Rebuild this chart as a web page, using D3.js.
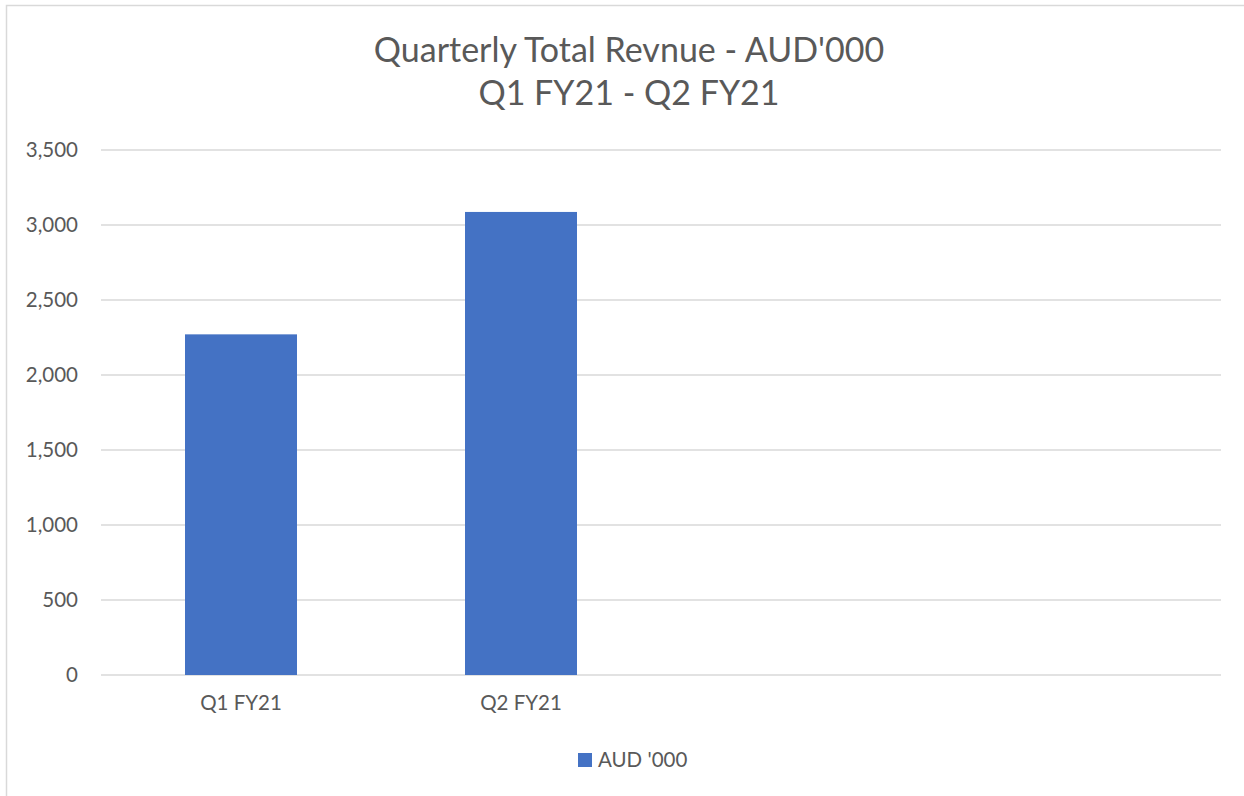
<!DOCTYPE html>
<html><head><meta charset="utf-8">
<script src="https://cdn.jsdelivr.net/npm/d3@7"></script>
<style>html,body{margin:0;padding:0;background:#fff;}svg{display:block;}</style>
</head><body>
<svg id="chart" width="1244" height="796"></svg>
<script>
const titleLines = ["Quarterly Total Revnue - AUD'000", "Q1 FY21 - Q2 FY21"];
const categories = ["Q1 FY21", "Q2 FY21", "", " "];
const seriesName = "AUD '000";
const values = [2271, 3087, null, null];
const yTicks = [0, 500, 1000, 1500, 2000, 2500, 3000, 3500];

(function () {
const svg = d3.select("#chart");
const font = "Lato, 'Open Sans', sans-serif";
const textColor = "#595959";

svg.append("rect").attr("x", 6.5).attr("y", 5.5).attr("width", 1300).attr("height", 900)
  .attr("fill", "#fff").attr("stroke", "#d9d9d9").attr("stroke-width", 1.5);

const pl = 101, pr = 1221, pt = 150, pb = 675;
const x = d3.scaleBand().domain(categories).range([pl, pr]).paddingInner(0.6).paddingOuter(0.3);
const y = d3.scaleLinear().domain([0, 3500]).range([pb, pt]);

svg.append("g").selectAll("line").data(yTicks).join("line")
  .attr("x1", pl).attr("x2", pr)
  .attr("y1", d => y(d)).attr("y2", d => y(d))
  .attr("stroke", "#d9d9d9").attr("stroke-width", 1.5);

const yAxis = d3.axisLeft(y).tickValues(yTicks).tickFormat(d3.format(",")).tickSize(0).tickPadding(0);
const ya = svg.append("g").attr("transform", "translate(78,0)").call(yAxis);
ya.select(".domain").remove();
ya.selectAll("text").attr("font-family", font).attr("font-size", 20.5).attr("fill", textColor);

svg.append("g").selectAll("rect").data(categories.map((c, i) => ({c, v: values[i]})).filter(d => d.v != null))
  .join("rect")
  .attr("x", d => x(d.c)).attr("width", x.bandwidth())
  .attr("y", d => y(d.v)).attr("height", d => y(0) - y(d.v))
  .attr("fill", "#4472c4");

const xAxis = d3.axisBottom(x).tickSize(0).tickPadding(0);
const xa = svg.append("g").attr("transform", `translate(0,${pb + 20})`).call(xAxis);
xa.select(".domain").remove();
xa.selectAll("text").attr("font-family", font).attr("font-size", 20.5).attr("fill", textColor);

const title = svg.append("text").attr("text-anchor", "middle").attr("font-family", font)
  .attr("font-size", 34).attr("fill", textColor);
titleLines.forEach((t, i) => title.append("tspan").attr("x", 629).attr("y", 62 + i * 43).text(t));

const lg = svg.append("g");
lg.append("rect").attr("x", 578).attr("y", 753).attr("width", 14).attr("height", 14).attr("fill", "#4472c4");
lg.append("text").attr("x", 598).attr("y", 760).attr("dy", "0.35em").attr("font-family", font)
  .attr("font-size", 20.5).attr("fill", textColor).text(seriesName);
})();
</script>
</body></html>
